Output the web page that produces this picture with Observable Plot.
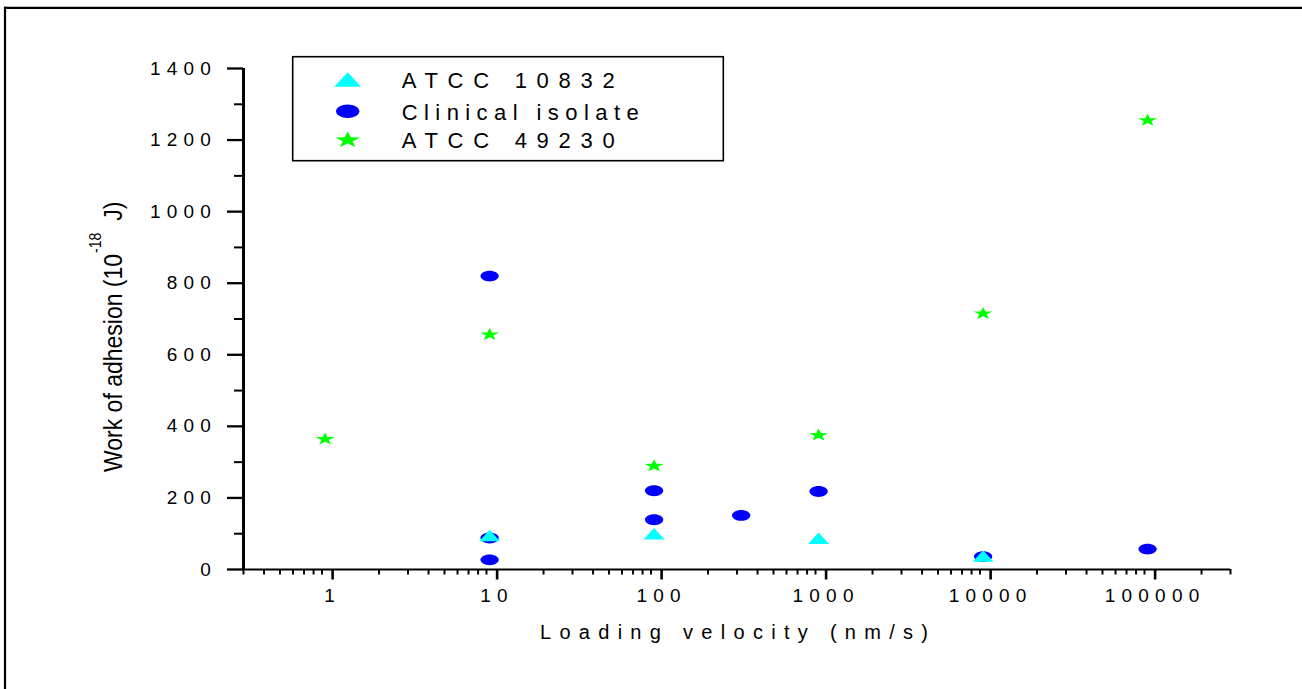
<!DOCTYPE html>
<html><head><meta charset="utf-8">
<script src="https://cdn.jsdelivr.net/npm/d3@7"></script>
<script src="https://cdn.jsdelivr.net/npm/@observablehq/plot@0.6"></script>
<style>
body{margin:0;background:#fff}
svg text{font-family:"Liberation Sans",Arial,sans-serif}
g[aria-label="x-axis tick label"] text, g[aria-label="y-axis tick label"] text{letter-spacing:6.2px}
</style>
</head><body><div id="chart"></div><script>
// ---- data ----
const seriesNames = ["ATCC 10832", "Clinical isolate", "ATCC 49230"];
const seriesColors = ["#00ffff", "#0000ff", "#00ff00"];
const atcc10832X = [9.4, 94, 940, 9400];
const atcc10832Y = [95, 100, 87, 38];
const clinicalX = [9.4, 9.4, 9.4, 94, 94, 318, 940, 9400, 94000];
const clinicalY = [820, 88, 27, 220, 139, 151, 218, 36, 57];
const atcc49230X = [0.94, 9.4, 94, 940, 9400, 94000];
const atcc49230Y = [366, 658, 291, 377, 717, 1257];
const xMajorTicks = [1, 10, 100, 1000, 10000, 100000];
const yMajorTicks = [0, 200, 400, 600, 800, 1000, 1200, 1400];
const yMinorTicks = [100, 300, 500, 700, 900, 1100, 1300];
const xDomain = [0.3, 300000];
const yDomain = [0, 1400];
const xLabel = "Loading velocity (nm/s)";
const yLabelMain = "Work of adhesion (10";
const yLabelSup = "-18";
const yLabelEnd = "J)";

const xMinorTicks = [];
for (let e = -1; e <= 5; e++) for (let m = 2; m <= 9; m++) {
  const v = m * Math.pow(10, e);
  if (v >= xDomain[0] - 1e-9 && v <= xDomain[1] + 1e-6) xMinorTicks.push(+v.toPrecision(6));
}

// ---- custom symbols (squashed shapes as in the reference) ----
function ellipseSym(w, h) {
  return {draw(ctx) {
    const a = w / 2, b = h / 2, k = 0.5523;
    ctx.moveTo(a, 0);
    ctx.bezierCurveTo(a, k * b, k * a, b, 0, b);
    ctx.bezierCurveTo(-k * a, b, -a, k * b, -a, 0);
    ctx.bezierCurveTo(-a, -k * b, -k * a, -b, 0, -b);
    ctx.bezierCurveTo(k * a, -b, a, -k * b, a, 0);
    ctx.closePath();
  }};
}
function triSym(w, h) {
  return {draw(ctx) {
    ctx.moveTo(0, -h / 2); ctx.lineTo(w / 2, h / 2); ctx.lineTo(-w / 2, h / 2); ctx.closePath();
  }};
}
function starSym(w, h) {
  return {draw(ctx) {
    const R = w / (2 * Math.sin(2 * Math.PI / 5));
    const r = R * 0.4;
    const c36 = Math.cos(Math.PI / 5);
    const sy = h / (R * (1 + c36));
    const off = R * (1 - c36) / 2 * sy;
    for (let i = 0; i < 10; i++) {
      const rad = i % 2 ? r : R, a = i * Math.PI / 5;
      const x = rad * Math.sin(a), y = -rad * Math.cos(a) * sy + off;
      if (i) ctx.lineTo(x, y); else ctx.moveTo(x, y);
    }
    ctx.closePath();
  }};
}
const plotSymbols = [triSym(21, 11.5), ellipseSym(18.3, 10.8), starSym(19, 12)];
const legendSymbols = [triSym(26.7, 14.3), ellipseSym(23.3, 13.5), starSym(25, 15.5)];

const toRows = (xs, ys) => xs.map((x, i) => ({x, y: ys[i]}));

const chart = Plot.plot({
  width: 1302, height: 689,
  marginLeft: 243, marginRight: 72, marginTop: 68, marginBottom: 120,
  style: {background: "white", fontFamily: "Liberation Sans, Arial, sans-serif", overflow: "visible", color: "black"},
  x: {type: "log", domain: xDomain, axis: null},
  y: {domain: yDomain, axis: null},
  marks: [
    Plot.axisY(yMinorTicks, {tickSize: 9, fill: "none", label: null, strokeWidth: 2}),
    Plot.axisY(yMajorTicks, {tickSize: 16, tickPadding: 10.5, strokeWidth: 2.3, fontSize: 19, tickFormat: d => String(d), label: null}),
    Plot.axisX(xMinorTicks, {tickSize: 5.5, fill: "none", label: null, strokeWidth: 2}),
    Plot.axisX(xMajorTicks, {tickSize: 10.5, tickPadding: 8.5, strokeWidth: 2.6, fontSize: 19, dx: 3.1, tickFormat: d => String(d), label: null}),
    Plot.ruleX([xDomain[0]], {y1: yDomain[0], y2: yDomain[1], strokeWidth: 3}),
    Plot.ruleY([yDomain[0]], {x1: xDomain[0], x2: xDomain[1], strokeWidth: 2.2}),
    Plot.dot(toRows(clinicalX, clinicalY), {x: "x", y: "y", symbol: plotSymbols[1], fill: seriesColors[1], stroke: "none"}),
    Plot.dot(toRows(atcc10832X, atcc10832Y), {x: "x", y: "y", symbol: plotSymbols[0], fill: seriesColors[0], stroke: "none"}),
    Plot.dot(toRows(atcc49230X, atcc49230Y), {x: "x", y: "y", symbol: plotSymbols[2], fill: seriesColors[2], stroke: "none"})
  ]
});
document.getElementById("chart").appendChild(chart);

const svg = d3.select(chart);
// outer (cropped) frame: top and left edges
svg.append("line").attr("x1", 4).attr("x2", 1302).attr("y1", 7.8).attr("y2", 7.8).attr("stroke", "black").attr("stroke-width", 2.3);
svg.append("line").attr("x1", 5).attr("x2", 5).attr("y1", 6.7).attr("y2", 689).attr("stroke", "black").attr("stroke-width", 2.2);

// x-axis title
svg.append("text").attr("x", 540).attr("y", 639).attr("text-anchor", "start")
  .style("font-size", "20px").attr("textLength", 388).attr("lengthAdjust", "spacing").attr("fill", "black").text(xLabel);

// y-axis title (rotated, with superscript)
const yt = svg.append("text").attr("transform", "translate(122,472) rotate(-90) scale(1,1.12)")
  .attr("text-anchor", "start").style("font-size", "23px").attr("fill", "black");
yt.append("tspan").text(yLabelMain);
yt.append("tspan").style("font-size", "14px").attr("dy", -19).attr("dx", 1).text(yLabelSup);
yt.append("tspan").attr("dy", 19).attr("dx", 12).text(yLabelEnd);

// legend
const lg = svg.append("g");
lg.append("rect").attr("x", 292.7).attr("y", 56.7).attr("width", 430.6).attr("height", 104)
  .attr("fill", "white").attr("stroke", "black").attr("stroke-width", 1.6);
const legendRowsY = [79.5, 111.3, 139.3];
const legendTextLen = [213, 237, 213];
seriesNames.forEach((name, i) => {
  const p = d3.path(); legendSymbols[i].draw(p);
  lg.append("path").attr("d", p.toString()).attr("transform", `translate(347.7,${legendRowsY[i]})`).attr("fill", seriesColors[i]);
  lg.append("text").attr("x", 401.7).attr("y", legendRowsY[i] + 8.3).attr("text-anchor", "start").style("font-size", "22px")
    .attr("textLength", legendTextLen[i]).attr("lengthAdjust", "spacing").attr("fill", "black").text(name);
});
</script></body></html>
